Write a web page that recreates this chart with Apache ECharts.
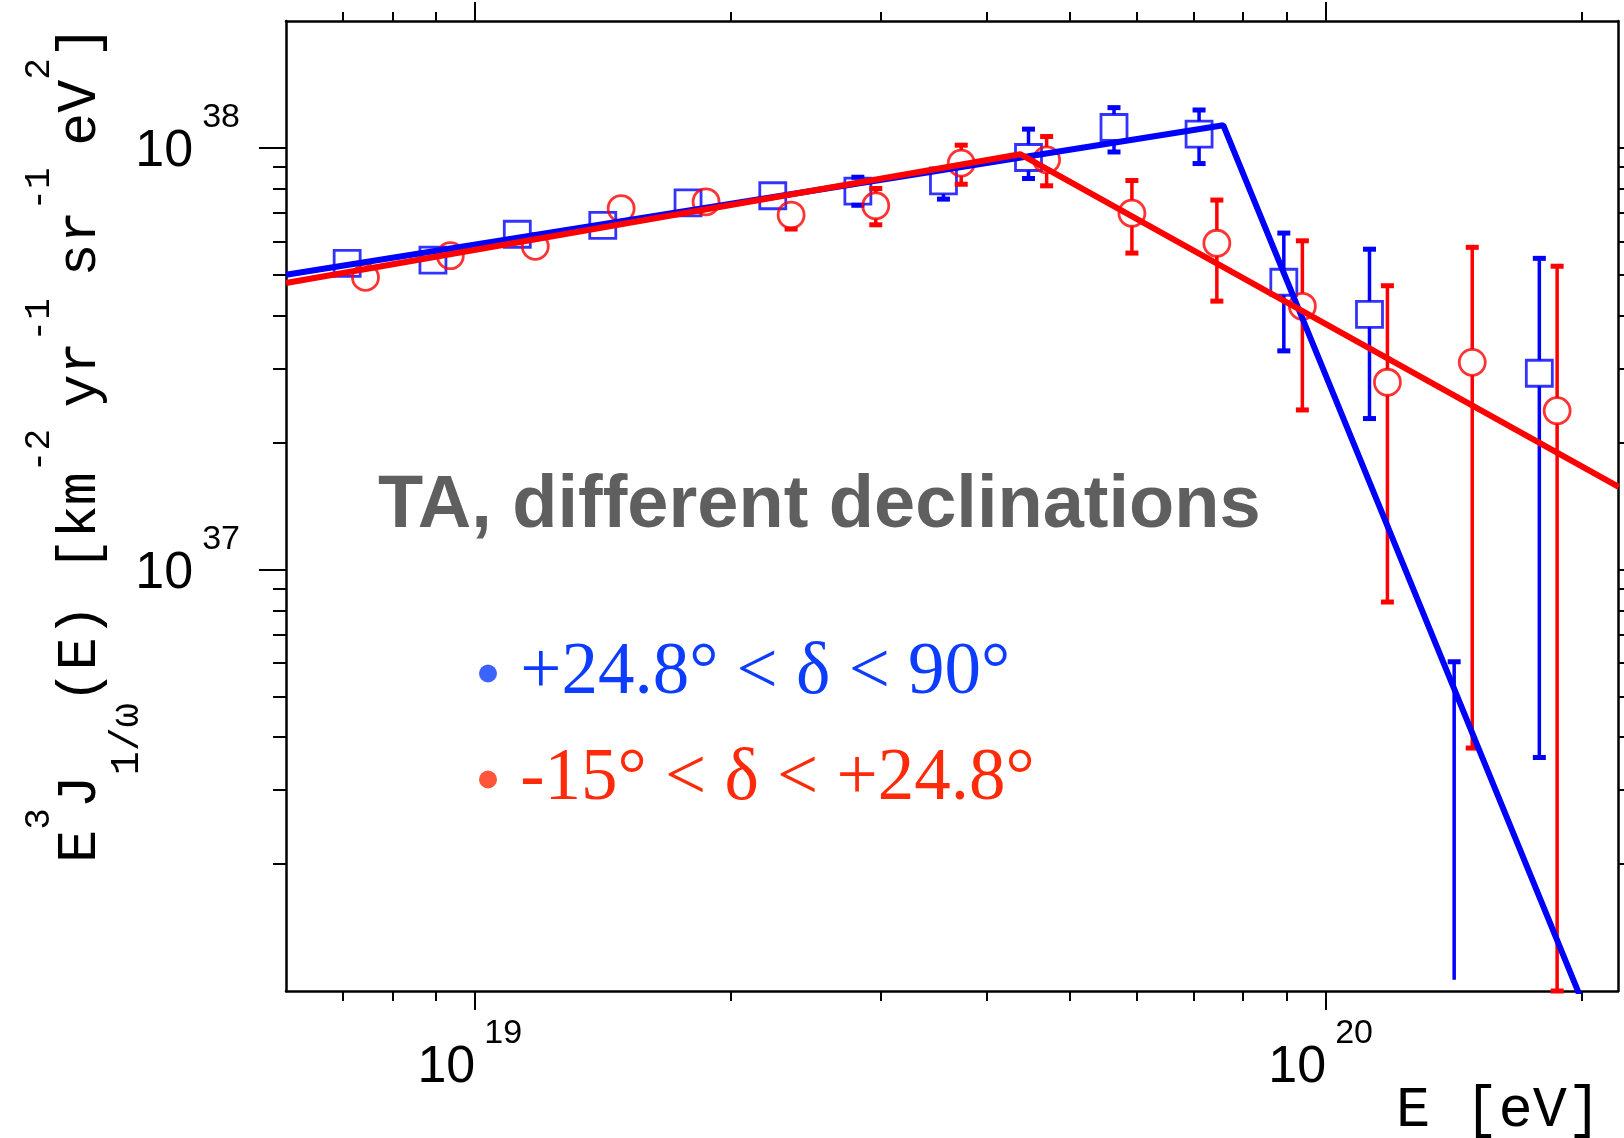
<!DOCTYPE html>
<html>
<head>
<meta charset="utf-8">
<script src="https://cdn.jsdelivr.net/npm/echarts@6/dist/echarts.min.js"></script>
<style>
html, body { margin: 0; padding: 0; background: #fff; }
#chart { width: 1624px; height: 1138px; }
</style>
</head>
<body>
<div id="chart"></div>
<script>
// axis ranges (E in eV, flux in km^-2 yr^-1 sr^-1 eV^2)
var xMin = 6.0e18, xMax = 2.206e20;
var yMin = 1e36, yMax = 2e38;

var xMajorTicks = [1e19, 1e20];
var xMinorTicks = [7e18, 8e18, 9e18, 2e19, 3e19, 4e19, 5e19, 6e19, 7e19, 8e19, 9e19, 2e20];
var yMajorTicks = [1e37, 1e38];
var yMinorTicks = [2e36, 3e36, 4e36, 5e36, 6e36, 7e36, 8e36, 9e36,
                   2e37, 3e37, 4e37, 5e37, 6e37, 7e37, 8e37, 9e37];

// +24.8 < dec < 90 (blue squares)
var blueName = '+24.8° < δ < 90°';
var blueE  = [7.08e18, 8.93e18, 1.122e19, 1.414e19, 1.781e19, 2.24e19, 2.82e19, 3.555e19, 4.475e19, 5.64e19, 7.10e19, 8.93e19, 1.126e20, 1.416e20, 1.783e20];
var blueJ  = [5.32e37, 5.42e37, 6.24e37, 6.55e37, 7.41e37, 7.70e37, 7.90e37, 8.35e37, 9.49e37, 1.118e38, 1.078e38, 4.80e37, 4.03e37, 9.9e35, 2.92e37];
var blueLo = [5.2e37, 5.3e37, 6.1e37, 6.4e37, 7.25e37, 7.55e37, 7.31e37, 7.56e37, 8.46e37, 9.78e37, 9.18e37, 3.30e37, 2.28e37, 2.0e35, 3.58e36];
var blueHi = [5.45e37, 5.55e37, 6.38e37, 6.7e37, 7.57e37, 7.86e37, 8.52e37, 8.8e37, 1.108e38, 1.246e38, 1.230e38, 6.28e37, 5.75e37, 6.04e36, 5.47e37];

// -15 < dec < +24.8 (red circles)
var redName = '-15° < δ < +24.8°';
var redE  = [7.44e18, 9.36e18, 1.178e19, 1.486e19, 1.870e19, 2.354e19, 2.96e19, 3.73e19, 4.70e19, 5.92e19, 7.45e19, 9.39e19, 1.182e20, 1.487e20, 1.871e20];
var redJ  = [4.93e37, 5.55e37, 5.84e37, 7.18e37, 7.45e37, 6.93e37, 7.29e37, 9.20e37, 9.37e37, 7.00e37, 5.94e37, 4.21e37, 2.78e37, 3.10e37, 2.38e37];
var redLo = [4.8e37, 5.4e37, 5.7e37, 7.0e37, 7.28e37, 6.42e37, 6.57e37, 8.20e37, 8.13e37, 5.63e37, 4.33e37, 2.39e37, 8.37e36, 3.77e36, 5.0e35];
var redHi = [5.06e37, 5.7e37, 5.98e37, 7.35e37, 7.62e37, 7.3e37, 8.01e37, 1.015e38, 1.064e38, 8.37e37, 7.52e37, 6.02e37, 4.71e37, 5.81e37, 5.24e37];

// broken power-law fits
var blueFitE = [6.0e18, 7.58e19, 2.0e20];
var blueFitJ = [5.0e37, 1.132e38, 9.5e35];
var redFitE  = [6.0e18, 4.375e19, 2.21e20];
var redFitJ  = [4.78e37, 9.66e37, 1.57e37];

var BLUE = '#0000ff', RED = '#ff0000';
var BLUE_TXT = '#0c3cff', RED_TXT = '#ff2a0a';
var MONO = '"Liberation Mono", "DejaVu Sans Mono", monospace';
var SANS = '"Liberation Sans", Arial, sans-serif';

function pairs(xs, ys) {
    return xs.map(function (x, i) { return [x, ys[i]]; });
}
function errRows(xs, ys, lo, hi) {
    return xs.map(function (x, i) { return [x, ys[i], lo[i], hi[i]]; });
}

// vertical error bars with caps, drawn outside the marker only
function errorBars(color) {
    return function (params, api) {
        var cs = params.coordSys;
        var top = cs.y, bot = cs.y + cs.height;
        var e = api.value(0);
        var c = api.coord([e, api.value(1)]);
        var yLo = api.coord([e, api.value(2)])[1];
        var yHi = api.coord([e, api.value(3)])[1];
        var half = 13;
        var st = { stroke: color, lineWidth: 3.5 };
        var kids = [];
        function cap(y) {
            return { type: 'rect', shape: { x: c[0] - 6.5, y: y - 2.5, width: 13, height: 5 }, style: { fill: color } };
        }
        if (c[1] - half > yHi && c[1] - half > top) {
            var endH = Math.max(yHi, top);
            kids.push({ type: 'line', shape: { x1: c[0], y1: Math.min(c[1] - half, bot), x2: c[0], y2: endH }, style: st });
            kids.push(cap(endH));
        }
        if (c[1] + half < yLo && c[1] + half < bot) {
            var endL = Math.min(yLo, bot);
            kids.push({ type: 'line', shape: { x1: c[0], y1: Math.max(c[1] + half, top), x2: c[0], y2: endL }, style: st });
            kids.push(cap(endL));
        }
        return { type: 'group', children: kids };
    };
}

function powLabel(v) {
    return '{b|10}{s|' + Math.round(Math.log10(v)) + '}';
}
var powRich = {
    b: { fontFamily: SANS, fontSize: 52, color: '#000', padding: [8, 0, 0, 0] },
    s: { fontFamily: SANS, fontSize: 34, color: '#000', padding: [0, 0, 60, 9] }
};
var powRichX = {
    b: powRich.b,
    s: { fontFamily: SANS, fontSize: 34, color: '#000', padding: [0, 10, 60, 9] }
};

// helper axes in log10 space that only carry tick marks
function tickAxis(pos, lo, hi, ticks, len, showLine) {
    return {
        type: 'value', position: pos, min: Math.log10(lo), max: Math.log10(hi),
        axisLine: { show: showLine, lineStyle: { color: '#000', width: 2.5 } },
        axisTick: { show: true, customValues: ticks.map(Math.log10), length: len,
                    lineStyle: { color: '#000', width: 2 } },
        axisLabel: { show: false },
        splitLine: { show: false }
    };
}

var chart = echarts.init(document.getElementById('chart'));
chart.setOption({
    animation: false,
    backgroundColor: '#fff',
    grid: { left: 286, right: 6, top: 21, bottom: 147, outerBoundsMode: 'none' },
    xAxis: [
        {
            type: 'log', logBase: 10, position: 'bottom', min: xMin, max: xMax,
            axisLine: { lineStyle: { color: '#000', width: 2.5 } },
            axisTick: { show: false },
            splitLine: { show: false },
            axisLabel: { showMinLabel: false, showMaxLabel: false, margin: 26,
                         formatter: powLabel, rich: powRichX }
        },
        tickAxis('bottom', xMin, xMax, xMajorTicks, 19, false),
        tickAxis('bottom', xMin, xMax, xMinorTicks, 10, false),
        tickAxis('top', xMin, xMax, xMajorTicks, 19, true),
        tickAxis('top', xMin, xMax, xMinorTicks, 9, false)
    ],
    yAxis: [
        {
            type: 'log', logBase: 10, position: 'left', min: yMin, max: yMax,
            axisLine: { lineStyle: { color: '#000', width: 2.5 } },
            axisTick: { show: false },
            splitLine: { show: false },
            axisLabel: {
                showMinLabel: false, showMaxLabel: false, margin: 46,
                formatter: function (v) { return v < yMin * 1.5 ? '' : powLabel(v); },
                rich: powRich
            }
        },
        tickAxis('left', yMin, yMax, yMajorTicks, 27, false),
        tickAxis('left', yMin, yMax, yMinorTicks, 13, false),
        tickAxis('right', yMin, yMax, yMajorTicks, 27, true),
        tickAxis('right', yMin, yMax, yMinorTicks, 13, false)
    ],
    legend: {
        orient: 'vertical', left: 479, top: 637, padding: 0,
        itemWidth: 18, itemHeight: 18, itemGap: 33, selectedMode: false,
        icon: 'circle',
        formatter: function (n) { return ' ' + n; },
        textStyle: { fontFamily: '"Liberation Serif", serif', fontSize: 73 },
        data: [
            { name: blueName, itemStyle: { color: BLUE_TXT, borderWidth: 0 }, textStyle: { color: BLUE_TXT } },
            { name: redName, itemStyle: { color: RED_TXT, borderWidth: 0 }, textStyle: { color: RED_TXT } }
        ]
    },
    graphic: [
        {
            type: 'text', left: 378, top: 470,
            style: { text: 'TA, different declinations', fill: '#5f5f5f',
                     font: 'bold 74px "Liberation Sans", Arial, sans-serif' }
        },
        {
            type: 'text', x: 1396, y: 1111,
            style: { text: 'E [eV]', fill: '#000', font: '57px ' + MONO,
                     align: 'left', verticalAlign: 'middle' }
        },
        {
            type: 'text', x: 80, y: 444, rotation: Math.PI / 2,
            style: {
                text: '{m|E}{p|3}{m|J}{d|1/ω}{m|(E) [km}{p|-2 }{m|yr}{p|-1 }{m|sr}{p|-1 }{m|eV}{p|2}{m|]}',
                fill: '#000', align: 'center', verticalAlign: 'middle',
                rich: {
                    m: { fontFamily: MONO, fontSize: 55 },
                    p: { fontFamily: MONO, fontSize: 36, padding: [0, 0, 82, 0] },
                    d: { fontFamily: MONO, fontSize: 40, padding: [95, 0, 0, 0] }
                }
            }
        }
    ],
    series: [
        {
            name: blueName, type: 'scatter', symbol: 'rect', symbolSize: 26,
            data: pairs(blueE, blueJ), z: 3,
            itemStyle: { color: 'rgba(0,0,0,0)', borderColor: BLUE, borderWidth: 2.8 }
        },
        {
            name: 'blueErr', type: 'custom', clip: false, z: 3,
            renderItem: errorBars(BLUE), data: errRows(blueE, blueJ, blueLo, blueHi)
        },
        {
            name: redName, type: 'scatter', symbol: 'circle', symbolSize: 26,
            data: pairs(redE, redJ), z: 4,
            itemStyle: { color: 'rgba(0,0,0,0)', borderColor: RED, borderWidth: 2.8 }
        },
        {
            name: 'redErr', type: 'custom', clip: false, z: 4,
            renderItem: errorBars(RED), data: errRows(redE, redJ, redLo, redHi)
        },
        {
            name: 'blueFit', type: 'line', symbol: 'none', z: 5,
            data: pairs(blueFitE, blueFitJ),
            lineStyle: { color: BLUE, width: 6 }
        },
        {
            name: 'redFit', type: 'line', symbol: 'none', z: 6,
            data: pairs(redFitE, redFitJ),
            lineStyle: { color: RED, width: 6 }
        }
    ]
});
</script>
</body>
</html>
